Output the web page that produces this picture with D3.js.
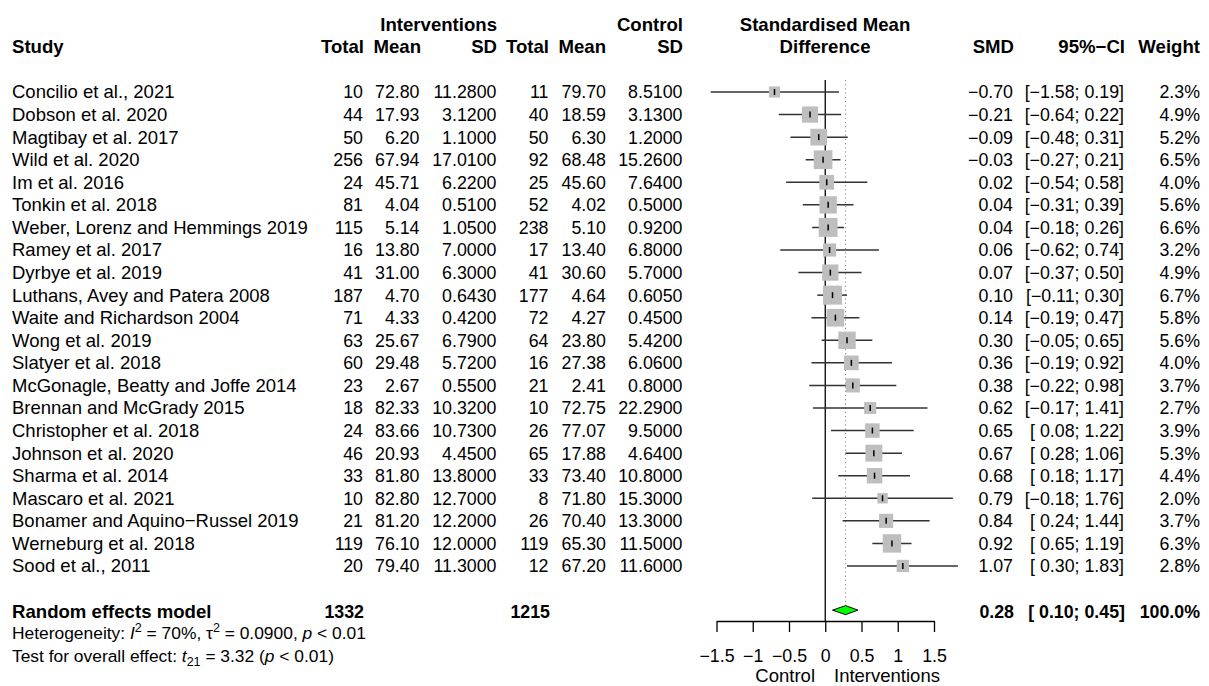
<!DOCTYPE html>
<html>
<head>
<meta charset="utf-8">
<script src="https://cdn.jsdelivr.net/npm/d3@7"></script>
<style>
body{margin:0;background:#fff;}
svg text{font-family:"Liberation Sans",Arial,Helvetica,sans-serif;fill:#000;}
</style>
</head>
<body>
<script>
// study data
var studies=['Concilio et al., 2021','Dobson et al. 2020','Magtibay et al. 2017','Wild et al. 2020','Im et al. 2016',
'Tonkin et al. 2018','Weber, Lorenz and Hemmings 2019','Ramey et al. 2017','Dyrbye et al. 2019','Luthans, Avey and Patera 2008',
'Waite and Richardson 2004','Wong et al. 2019','Slatyer et al. 2018','McGonagle, Beatty and Joffe 2014','Brennan and McGrady 2015',
'Christopher et al. 2018','Johnson et al. 2020','Sharma et al. 2014','Mascaro et al. 2021','Bonamer and Aquino\u2212Russel 2019',
'Werneburg et al. 2018','Sood et al., 2011'];
var intTotal=[10,44,50,256,24,81,115,16,41,187,71,63,60,23,18,24,46,33,10,21,119,20];
var intMean=[72.80,17.93,6.20,67.94,45.71,4.04,5.14,13.80,31.00,4.70,4.33,25.67,29.48,2.67,82.33,83.66,20.93,81.80,82.80,81.20,76.10,79.40];
var intSD=[11.28,3.12,1.10,17.01,6.22,0.51,1.05,7.00,6.30,0.643,0.42,6.79,5.72,0.55,10.32,10.73,4.45,13.80,12.70,12.20,12.00,11.30];
var ctlTotal=[11,40,50,92,25,52,238,17,41,177,72,64,16,21,10,26,65,33,8,26,119,12];
var ctlMean=[79.70,18.59,6.30,68.48,45.60,4.02,5.10,13.40,30.60,4.64,4.27,23.80,27.38,2.41,72.75,77.07,17.88,73.40,71.80,70.40,65.30,67.20];
var ctlSD=[8.51,3.13,1.20,15.26,7.64,0.50,0.92,6.80,5.70,0.605,0.45,5.42,6.06,0.80,22.29,9.50,4.64,10.80,15.30,13.30,11.50,11.60];
var smd=[-0.70,-0.21,-0.09,-0.03,0.02,0.04,0.04,0.06,0.07,0.10,0.14,0.30,0.36,0.38,0.62,0.65,0.67,0.68,0.79,0.84,0.92,1.07];
var ciLow=[-1.58,-0.64,-0.48,-0.27,-0.54,-0.31,-0.18,-0.62,-0.37,-0.11,-0.19,-0.05,-0.19,-0.22,-0.17,0.08,0.28,0.18,-0.18,0.24,0.65,0.30];
var ciHigh=[0.19,0.22,0.31,0.21,0.58,0.39,0.26,0.74,0.50,0.30,0.47,0.65,0.92,0.98,1.41,1.22,1.06,1.17,1.76,1.44,1.19,1.83];
var weight=[2.3,4.9,5.2,6.5,4.0,5.6,6.6,3.2,4.9,6.7,5.8,5.6,4.0,3.7,2.7,3.9,5.3,4.4,2.0,3.7,6.3,2.8];
var pooled={smd:0.28,lo:0.10,hi:0.45,weight:100.0,intTotal:1332,ctlTotal:1215};
var tickValues=[-1.5,-1,-0.5,0,0.5,1,1.5];
var tickLabels=['\u22121.5','\u22121','\u22120.5','0','0.5','1','1.5'];

var width=1209, height=686;
var fsNum=17.8, fsText=18.5, fsBold=18.6, fsHet=17.4;

var svg=d3.select('body').append('svg')
.attr('width',width)
.attr('height',height);

var x=d3.scaleLinear().domain([-1.5,1.5]).range([716.5,934]);
var y=d3.scaleLinear().domain([0,21]).range([92,566]);
var box=d3.scaleSqrt().domain([0,6.7]).range([0,19]);
var f2=d3.format('.2f'), f4=d3.format('.4f'), f1=d3.format('.1f');

function ciText(lo,hi){
    return '['+(lo<0?'':'\u00a0')+f2(lo)+'; '+f2(hi)+']';
}
function txt(g,t,xx,row,anchor,size,bold){
    return g.append('text')
    .attr('x',xx)
    .attr('y',y(row)+6.4)
    .attr('text-anchor',anchor)
    .style('font-size',size+'px')
    .style('font-weight',bold?'bold':'normal')
    .text(t);
}

// headers
var head=svg.append('g');
txt(head,'Interventions',497,-3,'end',fsBold,true);
txt(head,'Control',683,-3,'end',fsBold,true);
txt(head,'Standardised Mean',825,-3,'middle',fsBold,true);
txt(head,'Study',12,-2,'start',fsBold,true);
[['Total',364],['Mean',421],['SD',497],['Total',549],['Mean',606],['SD',683]].forEach(function(h){
    txt(head,h[0],h[1],-2,'end',fsBold,true);
});
txt(head,'Difference',825,-2,'middle',fsBold,true);
txt(head,'SMD',1014,-2,'end',fsBold,true);
txt(head,'95%\u2212CI',1125,-2,'end',fsBold,true);
txt(head,'Weight',1200,-2,'end',fsBold,true);

// table columns
var cols=[
    {v:studies,x:12,a:'start',s:fsText,f:function(d){return d;}},
    {v:intTotal,x:363,a:'end',s:fsNum,f:function(d){return d;}},
    {v:intMean,x:419.5,a:'end',s:fsNum,f:f2},
    {v:intSD,x:496.5,a:'end',s:fsNum,f:f4},
    {v:ctlTotal,x:548.5,a:'end',s:fsNum,f:function(d){return d;}},
    {v:ctlMean,x:606,a:'end',s:fsNum,f:f2},
    {v:ctlSD,x:682.5,a:'end',s:fsNum,f:f4},
    {v:smd,x:1013,a:'end',s:fsNum,f:f2},
    {v:weight,x:1200,a:'end',s:fsNum,f:function(d){return f1(d)+'%';}}
];
var table=svg.append('g');
cols.forEach(function(c){
    table.append('g').selectAll('text')
    .data(c.v)
    .enter()
    .append('text')
    .attr('x',c.x)
    .attr('y',function(d,i){return y(i)+6.4;})
    .attr('text-anchor',c.a)
    .style('font-size',c.s+'px')
    .text(c.f);
});
table.append('g').selectAll('text')
.data(smd)
.enter()
.append('text')
.attr('x',1124)
.attr('y',function(d,i){return y(i)+6.4;})
.attr('text-anchor','end')
.style('font-size',fsNum+'px')
.text(function(d,i){return ciText(ciLow[i],ciHigh[i]);});

// pooled row
var pr=svg.append('g');
txt(pr,'Random effects model',12,23,'start',fsBold,true);
txt(pr,pooled.intTotal,364,23,'end',fsNum,true);
txt(pr,pooled.ctlTotal,550,23,'end',fsNum,true);
txt(pr,f2(pooled.smd),1014,23,'end',fsNum,true);
txt(pr,ciText(pooled.lo,pooled.hi),1125,23,'end',fsNum,true);
txt(pr,f1(pooled.weight)+'%',1200,23,'end',fsNum,true);

// heterogeneity text
var het=svg.append('text')
.attr('x',12).attr('y',y(24)+5.5)
.style('font-size',fsHet+'px');
het.append('tspan').text('Heterogeneity: ');
het.append('tspan').style('font-style','italic').text('I');
het.append('tspan').attr('dy',-7).style('font-size','12.5px').text('2');
het.append('tspan').attr('dy',7).text(' = 70%, \u03c4');
het.append('tspan').attr('dy',-7).style('font-size','12.5px').text('2');
het.append('tspan').attr('dy',7).text(' = 0.0900, ');
het.append('tspan').style('font-style','italic').text('p');
het.append('tspan').text(' < 0.01');

var test=svg.append('text')
.attr('x',12).attr('y',y(25)+5.5)
.style('font-size',fsHet+'px');
test.append('tspan').text('Test for overall effect: ');
test.append('tspan').style('font-style','italic').text('t');
test.append('tspan').attr('dy',4).style('font-size','12.5px').text('21');
test.append('tspan').attr('dy',-4).text(' = 3.32 (');
test.append('tspan').style('font-style','italic').text('p');
test.append('tspan').text(' < 0.01)');

// plot
var plot=svg.append('g');
plot.append('line')
.attr('x1',x(pooled.smd)).attr('x2',x(pooled.smd))
.attr('y1',80).attr('y2',y(23)-5)
.style('stroke','#888')
.style('stroke-width',1)
.style('stroke-dasharray','1.2 3');

plot.append('line')
.attr('x1',x(0)).attr('x2',x(0))
.attr('y1',80).attr('y2',622)
.style('stroke','#000')
.style('stroke-width',1.3);

plot.selectAll('.ci')
.data(smd)
.enter()
.append('line')
.attr('class','ci')
.attr('x1',function(d,i){return x(ciLow[i]);})
.attr('x2',function(d,i){return x(ciHigh[i]);})
.attr('y1',function(d,i){return y(i);})
.attr('y2',function(d,i){return y(i);})
.style('stroke','#333')
.style('stroke-width',1.5);

plot.selectAll('.sq')
.data(smd)
.enter()
.append('rect')
.attr('class','sq')
.attr('x',function(d,i){return x(d)-box(weight[i])/2;})
.attr('y',function(d,i){return y(i)-box(weight[i])/2;})
.attr('width',function(d,i){return box(weight[i]);})
.attr('height',function(d,i){return box(weight[i]);})
.style('fill','#bebebe');

plot.selectAll('.est')
.data(smd)
.enter()
.append('line')
.attr('class','est')
.attr('x1',function(d){return x(d);})
.attr('x2',function(d){return x(d);})
.attr('y1',function(d,i){return y(i)-3;})
.attr('y2',function(d,i){return y(i)+3;})
.style('stroke','#000')
.style('stroke-width',1.5);

var dy0=y(23)-1;
plot.append('path')
.attr('d','M'+x(pooled.lo)+','+dy0+'L'+x(pooled.smd)+','+(dy0-4.5)+'L'+x(pooled.hi)+','+dy0+'L'+x(pooled.smd)+','+(dy0+4.5)+'Z')
.style('fill','#00ff00')
.style('stroke','#000')
.style('stroke-width',1);

// axis
var axis=d3.axisBottom(x)
.tickValues(tickValues)
.tickFormat(function(d,i){return tickLabels[i];})
.tickSize(11)
.tickSizeOuter(0)
.tickPadding(17);

var ax=svg.append('g')
.attr('transform','translate(0,621)')
.call(axis);
ax.selectAll('text')
.style('font-size',fsNum+'px')
.style('font-family','"Liberation Sans",Arial,Helvetica,sans-serif');
ax.selectAll('line,path').style('stroke-width',1.3);

svg.append('text')
.attr('x',815).attr('y',682)
.attr('text-anchor','end')
.style('font-size',fsText+'px')
.text('Control');
svg.append('text')
.attr('x',834).attr('y',682)
.attr('text-anchor','start')
.style('font-size',fsText+'px')
.text('Interventions');
</script>
</body>
</html>
